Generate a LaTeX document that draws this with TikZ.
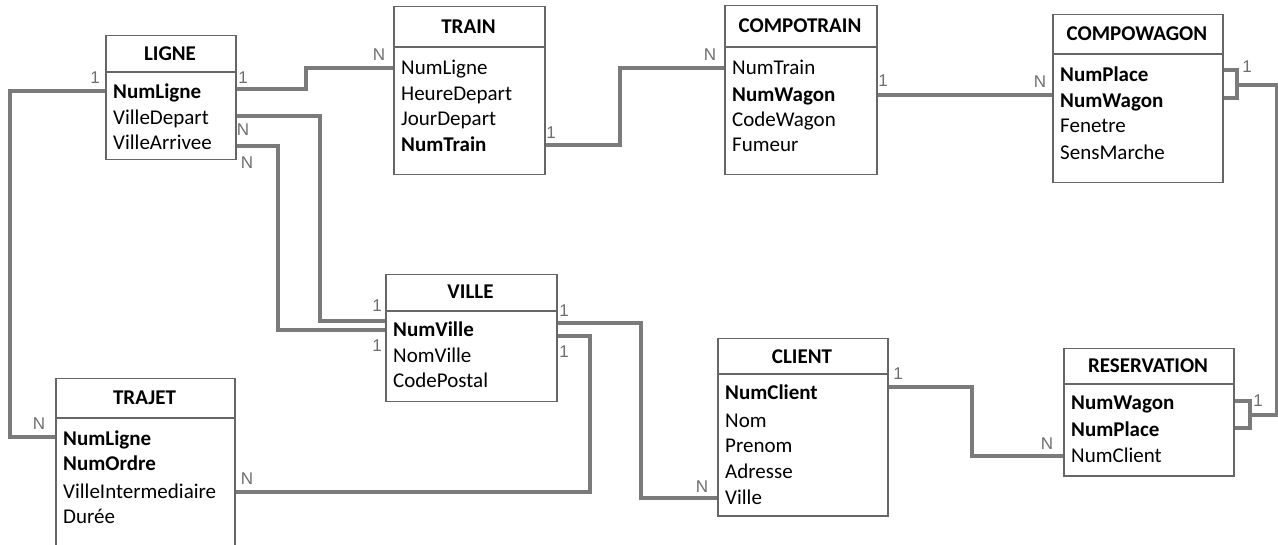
\documentclass[tikz,border=0pt]{standalone}
\usepackage{fontspec}
\setmainfont{Carlito}
\newfontfamily\cardfont{Liberation Sans}
\usetikzlibrary{calc}
\definecolor{boxgray}{HTML}{666666}
\definecolor{linkgray}{HTML}{7B7B7B}
\definecolor{cardgray}{HTML}{6E6E6E}
\begin{document}
\begin{tikzpicture}[x=1pt,y=-1pt,
  entity/.style={draw=boxgray,line width=1.5pt,inner sep=0pt,anchor=north west},
  hdr/.style={draw=boxgray,line width=1.3pt},
  ttl/.style={font=\bfseries\fontsize{21}{25}\selectfont,inner sep=0pt,text height=13.5pt,text depth=0pt,anchor=center},
  attr/.style={font=\fontsize{21}{25}\selectfont,inner sep=0pt,text height=17.5pt,text depth=4pt,anchor=west},
  pk/.style={attr,font=\bfseries\fontsize{21}{25}\selectfont},
  link/.style={draw=linkgray,line width=4pt},
  card/.style={text=cardgray,font=\cardfont\fontsize{17}{19}\selectfont,inner sep=0pt}]
\clip (0,0) rectangle (1278,545);

% LIGNE
\node[entity,minimum width=130pt,minimum height=124pt] (ligne) at (105,35) {};
\draw[hdr] ($(ligne.north west)+(0,37)$) -- ($(ligne.north east)+(0,37)$);
\node[ttl] (ligne-t) at (170,54) {LIGNE};
\node[pk] (l1) at (113,92) {NumLigne};
\node[attr] (l2) at (113,118) {VilleDepart};
\node[attr] (l3) at (113,143) {VilleArrivee};

% TRAIN
\node[entity,minimum width=151pt,minimum height=168pt] (train) at (393,6) {};
\draw[hdr] ($(train.north west)+(0,41)$) -- ($(train.north east)+(0,41)$);
\node[ttl] (train-t) at (468.5,27) {TRAIN};
\node[attr] (t1) at (401,68) {NumLigne};
\node[attr] (t2) at (401,94) {HeureDepart};
\node[attr] (t3) at (401,119) {JourDepart};
\node[pk] (t4) at (401,145) {NumTrain};

% COMPOTRAIN
\node[entity,minimum width=152pt,minimum height=169pt] (compotrain) at (724,5) {};
\draw[hdr] ($(compotrain.north west)+(0,42)$) -- ($(compotrain.north east)+(0,42)$);
\node[ttl] (compotrain-t) at (800,26) {COMPOTRAIN};
\node[attr] (ct1) at (732,68) {NumTrain};
\node[pk] (ct2) at (732,95) {NumWagon};
\node[attr] (ct3) at (732,120) {CodeWagon};
\node[attr] (ct4) at (732,145) {Fumeur};

% COMPOWAGON
\node[entity,minimum width=170pt,minimum height=168pt] (compowagon) at (1052,14) {};
\draw[hdr] ($(compowagon.north west)+(0,40)$) -- ($(compowagon.north east)+(0,40)$);
\node[ttl] (compowagon-t) at (1137,34) {COMPOWAGON};
\node[pk] (cw1) at (1060,75) {NumPlace};
\node[pk] (cw2) at (1060,101) {NumWagon};
\node[attr] (cw3) at (1060,126) {Fenetre};
\node[attr] (cw4) at (1060,153) {SensMarche};

% VILLE
\node[entity,minimum width=171pt,minimum height=127pt] (ville) at (385,274) {};
\draw[hdr] ($(ville.north west)+(0,37)$) -- ($(ville.north east)+(0,37)$);
\node[ttl] (ville-t) at (470.5,292) {VILLE};
\node[pk] (v1) at (393,330) {NumVille};
\node[attr] (v2) at (393,356) {NomVille};
\node[attr] (v3) at (393,381) {CodePostal};

% CLIENT
\node[entity,minimum width=170pt,minimum height=177pt] (client) at (717,338) {};
\draw[hdr] ($(client.north west)+(0,36)$) -- ($(client.north east)+(0,36)$);
\node[ttl] (client-t) at (802,357) {CLIENT};
\node[pk] (c1) at (725,393) {NumClient};
\node[attr] (c2) at (725,421) {Nom};
\node[attr] (c3) at (725,446) {Prenom};
\node[attr] (c4) at (725,472) {Adresse};
\node[attr] (c5) at (725,498) {Ville};

% RESERVATION
\node[entity,minimum width=170pt,minimum height=127pt] (reservation) at (1063,348) {};
\draw[hdr] ($(reservation.north west)+(0,36)$) -- ($(reservation.north east)+(0,36)$);
\node[ttl] (reservation-t) at (1148,366) {RESERVATION};
\node[pk] (r1) at (1071,403) {NumWagon};
\node[pk] (r2) at (1071,430) {NumPlace};
\node[attr] (r3) at (1071,456) {NumClient};

% TRAJET
\node[entity,minimum width=179pt,minimum height=190pt] (trajet) at (55,378) {};
\draw[hdr] ($(trajet.north west)+(0,40)$) -- ($(trajet.north east)+(0,40)$);
\node[ttl] (trajet-t) at (144.5,398) {TRAJET};
\node[pk] (tr1) at (63,439) {NumLigne};
\node[pk] (tr2) at (63,464) {NumOrdre};
\node[attr] (tr3) at (63,492) {VilleIntermediaire};
\node[attr] (tr4) at (63,517) {Durée};

% links
\draw[link] ($(ligne.west |- l1)+(0,-1)$) -- ++(-95,0) |- ($(trajet.west |- tr1)+(0,-2)$);
\draw[link] ($(ligne.east |- l1)+(0,-3)$) -- ++(69,0) |- (train.west |- t1);
\draw[link] ($(ligne.east |- l2)+(0,-2)$) -- ++(83,0) |- ($(ville.west |- v1)+(0,-9)$);
\draw[link] ($(ligne.east |- l3)+(0,3)$) -- ++(41,0) |- (ville.west |- v1);
\draw[link] (train.east |- t4) -- ++(74,0) |- (compotrain.west |- ct1);
\draw[link] (compotrain.east |- ct2) -- (compowagon.west |- ct2);
\draw[link] ($(compowagon.east |- cw1)+(0,-5)$) -- ++(13,0) coordinate (cwb) |- ($(compowagon.east |- cw2)+(0,-3)$);
\draw[link] ($(reservation.east |- r1)+(0,-2)$) -- ++(15,0) coordinate (rb) |- ($(reservation.east |- r2)+(0,-2)$);
\draw[link] ($(cwb)+(0,15)$) -- ++(40,0) |- ($(rb)+(0,14)$);
\draw[link] ($(ville.east |- v1)+(0,-7)$) -- ++(83,0) |- (client.west |- c5);
\draw[link] ($(ville.east |- v1)+(0,6)$) -- ++(32,0) |- (trajet.east |- tr3);
\draw[link] ($(client.east |- c1)+(0,-6)$) -- ++(83,0) |- (reservation.west |- r3);

% cardinalities
\node[card] (k1) at (95,78) {1};
\node[card] (k2) at (243,78) {1};
\node[card] (k3) at (379,55) {N};
\node[card] (k4) at (243,130) {N};
\node[card] (k5) at (247,163) {N};
\node[card] (k6) at (551,133) {1};
\node[card] (k7) at (710,55) {N};
\node[card] (k8) at (883,81) {1};
\node[card] (k9) at (1040,82) {N};
\node[card] (k10) at (1247,67) {1};
\node[card] (k11) at (377,306) {1};
\node[card] (k12) at (377,346) {1};
\node[card] (k13) at (564,311) {1};
\node[card] (k14) at (564,352) {1};
\node[card] (k15) at (39,424) {N};
\node[card] (k16) at (247,479) {N};
\node[card] (k17) at (702,487) {N};
\node[card] (k18) at (898,374) {1};
\node[card] (k19) at (1047,444) {N};
\node[card] (k20) at (1258,401) {1};
\end{tikzpicture}
\end{document}
